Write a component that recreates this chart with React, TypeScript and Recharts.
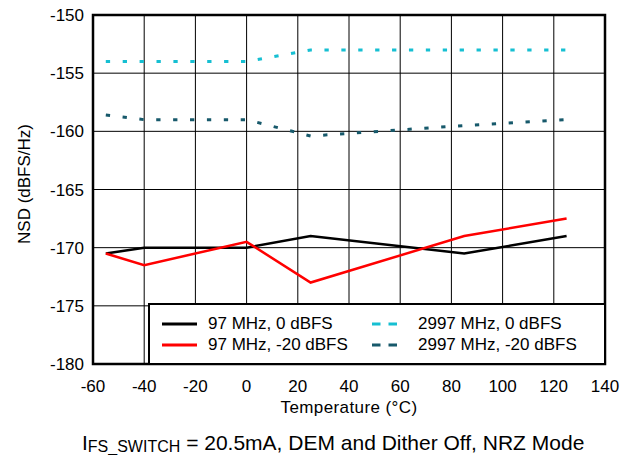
import React from 'react';
import { LineChart, Line, XAxis, YAxis, CartesianGrid, ReferenceArea } from 'recharts';

const temperatures = [-55, -40, 0, 25, 85, 125];
const nsd97_0 = [-170.5, -170, -170, -169, -170.5, -169];
const nsd97_m20 = [-170.5, -171.5, -169.5, -173, -169, -167.5];
const nsd2997_0 = [-154, -154, -154, -153, -153, -153];
const nsd2997_m20 = [-158.6, -159, -159, -160.4, -159.5, -159];

const xTicks = [-60, -40, -20, 0, 20, 40, 60, 80, 100, 120, 140];
const yTicks = [-180, -175, -170, -165, -160, -155, -150];

const seriesInfo = [
  { key: 'a', name: '97 MHz, 0 dBFS', color: '#000000', dashed: false },
  { key: 'b', name: '97 MHz, -20 dBFS', color: '#ff0000', dashed: false },
  { key: 'c', name: '2997 MHz, 0 dBFS', color: '#16bfd2', dashed: true },
  { key: 'd', name: '2997 MHz, -20 dBFS', color: '#17596b', dashed: true },
];

const data = temperatures.map((t, i) => ({
  t,
  a: nsd97_0[i],
  b: nsd97_m20[i],
  c: nsd2997_0[i],
  d: nsd2997_m20[i],
}));

const FONT = '"Liberation Sans", Arial, sans-serif';

const LegendBox = () => {
  const order = [seriesInfo[0], seriesInfo[2], seriesInfo[1], seriesInfo[3]];
  return (
    <div
      style={{
        position: 'absolute',
        left: 148,
        top: 303,
        width: 458.25,
        height: 62.25,
        boxSizing: 'border-box',
        background: '#fff',
        borderTop: '2px solid #000',
        borderLeft: '2.5px solid #000',
        borderRight: '2.5px solid #000',
        borderBottom: '2.5px solid #000',
        fontFamily: FONT,
        fontSize: 17,
        color: '#000',
      }}
    >
      {order.map((s, i) => {
        const col = i % 2;
        const row = Math.floor(i / 2);
        const lineLeft = col === 0 ? 12 : 222;
        const textLeft = col === 0 ? 58 : 268;
        const cy = row === 0 ? 19 : 40;
        return (
          <React.Fragment key={s.key}>
            <svg
              style={{ position: 'absolute', left: lineLeft, top: cy - 3 }}
              width={36}
              height={6}
            >
              <line
                x1={0}
                y1={3}
                x2={s.dashed ? 25 : 35}
                y2={3}
                stroke={s.color}
                strokeWidth={3}
                strokeDasharray={s.dashed ? '8.5 8' : undefined}
              />
            </svg>
            <span
              style={{
                position: 'absolute',
                left: textLeft,
                top: cy - 10,
                lineHeight: '20px',
                whiteSpace: 'nowrap',
              }}
            >
              {s.name}
            </span>
          </React.Fragment>
        );
      })}
    </div>
  );
};

export default function App() {
  return (
    <div style={{ position: 'absolute', left: 0, top: 0, width: 633, height: 455, background: '#fff' }}>
      <LineChart
        width={633}
        height={455}
        data={data}
        margin={{ top: 15, right: 28, bottom: 61, left: 0 }}
        style={{ fontFamily: FONT }}
      >
        <CartesianGrid stroke="#000" strokeWidth={1} horizontal vertical />
        <XAxis
          dataKey="t"
          type="number"
          domain={[-60, 140]}
          ticks={xTicks}
          interval={0}
          tickLine={false}
          axisLine={false}
          tickSize={0}
          tickMargin={16}
          height={30}
          tick={{ fill: '#000', fontSize: 17, fontFamily: FONT }}
          label={{
            content: () => (
              <text
                x={349}
                y={413}
                textAnchor="middle"
                fontSize={17}
                letterSpacing={0.4}
                fontFamily={FONT}
                fill="#000"
              >
                Temperature (°C)
              </text>
            ),
          }}
        />
        <YAxis
          type="number"
          domain={[-180, -150]}
          ticks={yTicks}
          interval={0}
          width={93}
          tickLine={false}
          axisLine={false}
          tickSize={0}
          tickMargin={9}
          tick={{ fill: '#000', fontSize: 17, fontFamily: FONT }}
          label={{
            content: () => (
              <text
                x={24}
                y={184}
                transform="rotate(-90, 24, 184)"
                textAnchor="middle"
                dominantBaseline="central"
                fontSize={17}
                fontFamily={FONT}
                fill="#000"
              >
                NSD (dBFS/Hz)
              </text>
            ),
          }}
        />
        {seriesInfo.map((s) => (
          <Line
            key={s.key}
            dataKey={s.key}
            name={s.name}
            type="linear"
            stroke={s.color}
            strokeWidth={s.dashed ? 3 : 2.5}
            strokeDasharray={s.dashed ? '4.3 12.6' : undefined}
            dot={false}
            activeDot={false}
            isAnimationActive={false}
          />
        ))}
        <ReferenceArea
          x1={-60}
          x2={140}
          y1={-180}
          y2={-150}
          fill="none"
          fillOpacity={0}
          stroke="#000"
          strokeWidth={2.5}
          ifOverflow="visible"
        />
      </LineChart>
      <LegendBox />
      <svg
        style={{ position: 'absolute', left: 0, top: 0, pointerEvents: 'none' }}
        width={633}
        height={455}
      >
        <text x={82} y={450} fontFamily={FONT} fill="#000">
          <tspan fontSize={21}>I</tspan>
          <tspan fontSize={16} dy={1.5}>FS_SWITCH</tspan>
          <tspan fontSize={21} dy={-1.5}> = 20.5mA, DEM and Dither Off, NRZ Mode</tspan>
        </text>
      </svg>
    </div>
  );
}
